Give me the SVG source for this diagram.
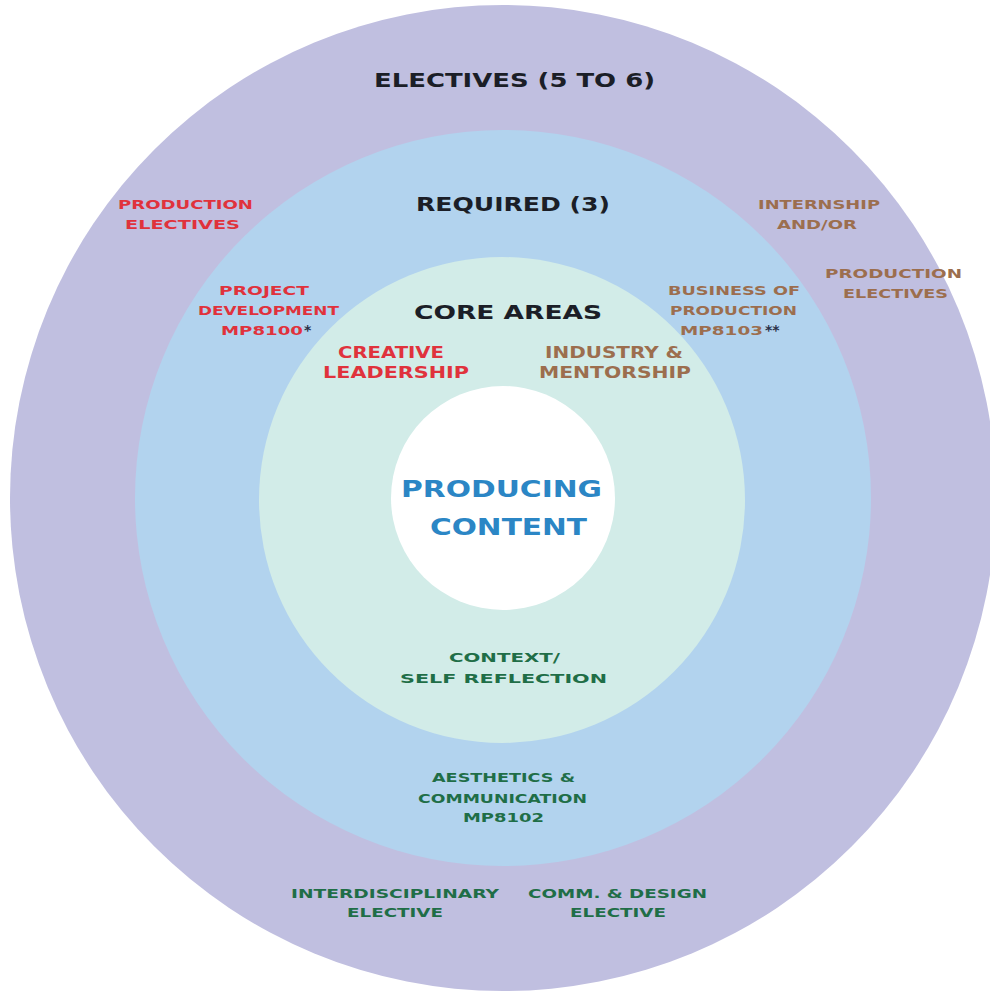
<svg xmlns="http://www.w3.org/2000/svg" width="990" height="993" viewBox="0 0 990 993">
<style>
text{font-family:"DejaVu Sans","Liberation Sans",sans-serif;font-weight:bold}
.big{font-size:19px;fill:#1b1e27}
.sm{font-size:12.5px}
.mid{font-size:15px}
.ctr{font-size:23px;fill:#2b86c5}
.g13{font-size:13px}
.red{fill:#e0323c}
.brn{fill:#9c6e4e}
.grn{fill:#1f6e47}
.ast{fill:#2a3048;font-size:14px}
</style>
<rect width="990" height="993" fill="#ffffff"/>
<g id="ring-electives"><circle cx="503" cy="498" r="493" fill="#c0bfe0"/></g>
<g id="ring-required"><circle cx="503" cy="498" r="368" fill="#b2d3ee"/></g>
<g id="ring-core"><circle cx="502" cy="500" r="243" fill="#d2ece8"/></g>
<g id="ring-center"><circle cx="503" cy="498" r="112" fill="#ffffff"/></g>

<g id="label-electives"><text class="big" x="374" y="87" textLength="281" lengthAdjust="spacingAndGlyphs">ELECTIVES (5 TO 6)</text></g>
<g id="label-required"><text class="big" x="416" y="211" textLength="194" lengthAdjust="spacingAndGlyphs">REQUIRED (3)</text></g>
<g id="label-core"><text class="big" x="414" y="319" textLength="188" lengthAdjust="spacingAndGlyphs">CORE AREAS</text></g>

<g id="prod-electives-left">
<text class="sm red" x="118" y="209" textLength="135" lengthAdjust="spacingAndGlyphs">PRODUCTION</text>
<text class="sm red" x="125" y="229" textLength="115" lengthAdjust="spacingAndGlyphs">ELECTIVES</text>
</g>
<g id="project-development">
<text class="sm red" x="219" y="295" textLength="90" lengthAdjust="spacingAndGlyphs">PROJECT</text>
<text class="sm red" x="198" y="315" textLength="141" lengthAdjust="spacingAndGlyphs">DEVELOPMENT</text>
<text class="sm red" x="221" y="335" textLength="82" lengthAdjust="spacingAndGlyphs">MP8100</text>
<text class="ast" x="304" y="335">*</text>
</g>
<g id="internship">
<text class="sm brn" x="758" y="209" textLength="122" lengthAdjust="spacingAndGlyphs">INTERNSHIP</text>
<text class="sm brn" x="777" y="229" textLength="80" lengthAdjust="spacingAndGlyphs">AND/OR</text>
</g>
<g id="prod-electives-right">
<text class="sm brn" x="825" y="278" textLength="137" lengthAdjust="spacingAndGlyphs">PRODUCTION</text>
<text class="sm brn" x="843" y="298" textLength="105" lengthAdjust="spacingAndGlyphs">ELECTIVES</text>
</g>
<g id="business-of-production">
<text class="sm brn" x="668" y="295" textLength="132" lengthAdjust="spacingAndGlyphs">BUSINESS OF</text>
<text class="sm brn" x="670" y="315" textLength="127" lengthAdjust="spacingAndGlyphs">PRODUCTION</text>
<text class="sm brn" x="680" y="335" textLength="83" lengthAdjust="spacingAndGlyphs">MP8103</text>
<text class="ast" x="765" y="335">**</text>
</g>
<g id="creative-leadership">
<text class="mid red" x="338" y="358" textLength="106" lengthAdjust="spacingAndGlyphs">CREATIVE</text>
<text class="mid red" x="323" y="378" textLength="146" lengthAdjust="spacingAndGlyphs">LEADERSHIP</text>
</g>
<g id="industry-mentorship">
<text class="mid brn" x="545" y="358" textLength="138" lengthAdjust="spacingAndGlyphs">INDUSTRY &amp;</text>
<text class="mid brn" x="539" y="378" textLength="152" lengthAdjust="spacingAndGlyphs">MENTORSHIP</text>
</g>
<g id="producing-content">
<text class="ctr" x="401" y="497" textLength="201" lengthAdjust="spacingAndGlyphs">PRODUCING</text>
<text class="ctr" x="430" y="535" textLength="157" lengthAdjust="spacingAndGlyphs">CONTENT</text>
</g>
<g id="context-self-reflection">
<text class="g13 grn" x="449" y="662" textLength="111" lengthAdjust="spacingAndGlyphs">CONTEXT/</text>
<text class="g13 grn" x="400" y="683" textLength="207" lengthAdjust="spacingAndGlyphs">SELF REFLECTION</text>
</g>
<g id="aesthetics-communication">
<text class="g13 grn" x="432" y="782" textLength="143" lengthAdjust="spacingAndGlyphs">AESTHETICS &amp;</text>
<text class="g13 grn" x="418" y="803" textLength="169" lengthAdjust="spacingAndGlyphs">COMMUNICATION</text>
<text class="g13 grn" x="463" y="822" textLength="81" lengthAdjust="spacingAndGlyphs">MP8102</text>
</g>
<g id="interdisciplinary-elective">
<text class="sm grn" x="291" y="898" textLength="208" lengthAdjust="spacingAndGlyphs">INTERDISCIPLINARY</text>
<text class="sm grn" x="347" y="917" textLength="96" lengthAdjust="spacingAndGlyphs">ELECTIVE</text>
</g>
<g id="comm-design-elective">
<text class="sm grn" x="528" y="898" textLength="179" lengthAdjust="spacingAndGlyphs">COMM. &amp; DESIGN</text>
<text class="sm grn" x="570" y="917" textLength="96" lengthAdjust="spacingAndGlyphs">ELECTIVE</text>
</g>
</svg>
